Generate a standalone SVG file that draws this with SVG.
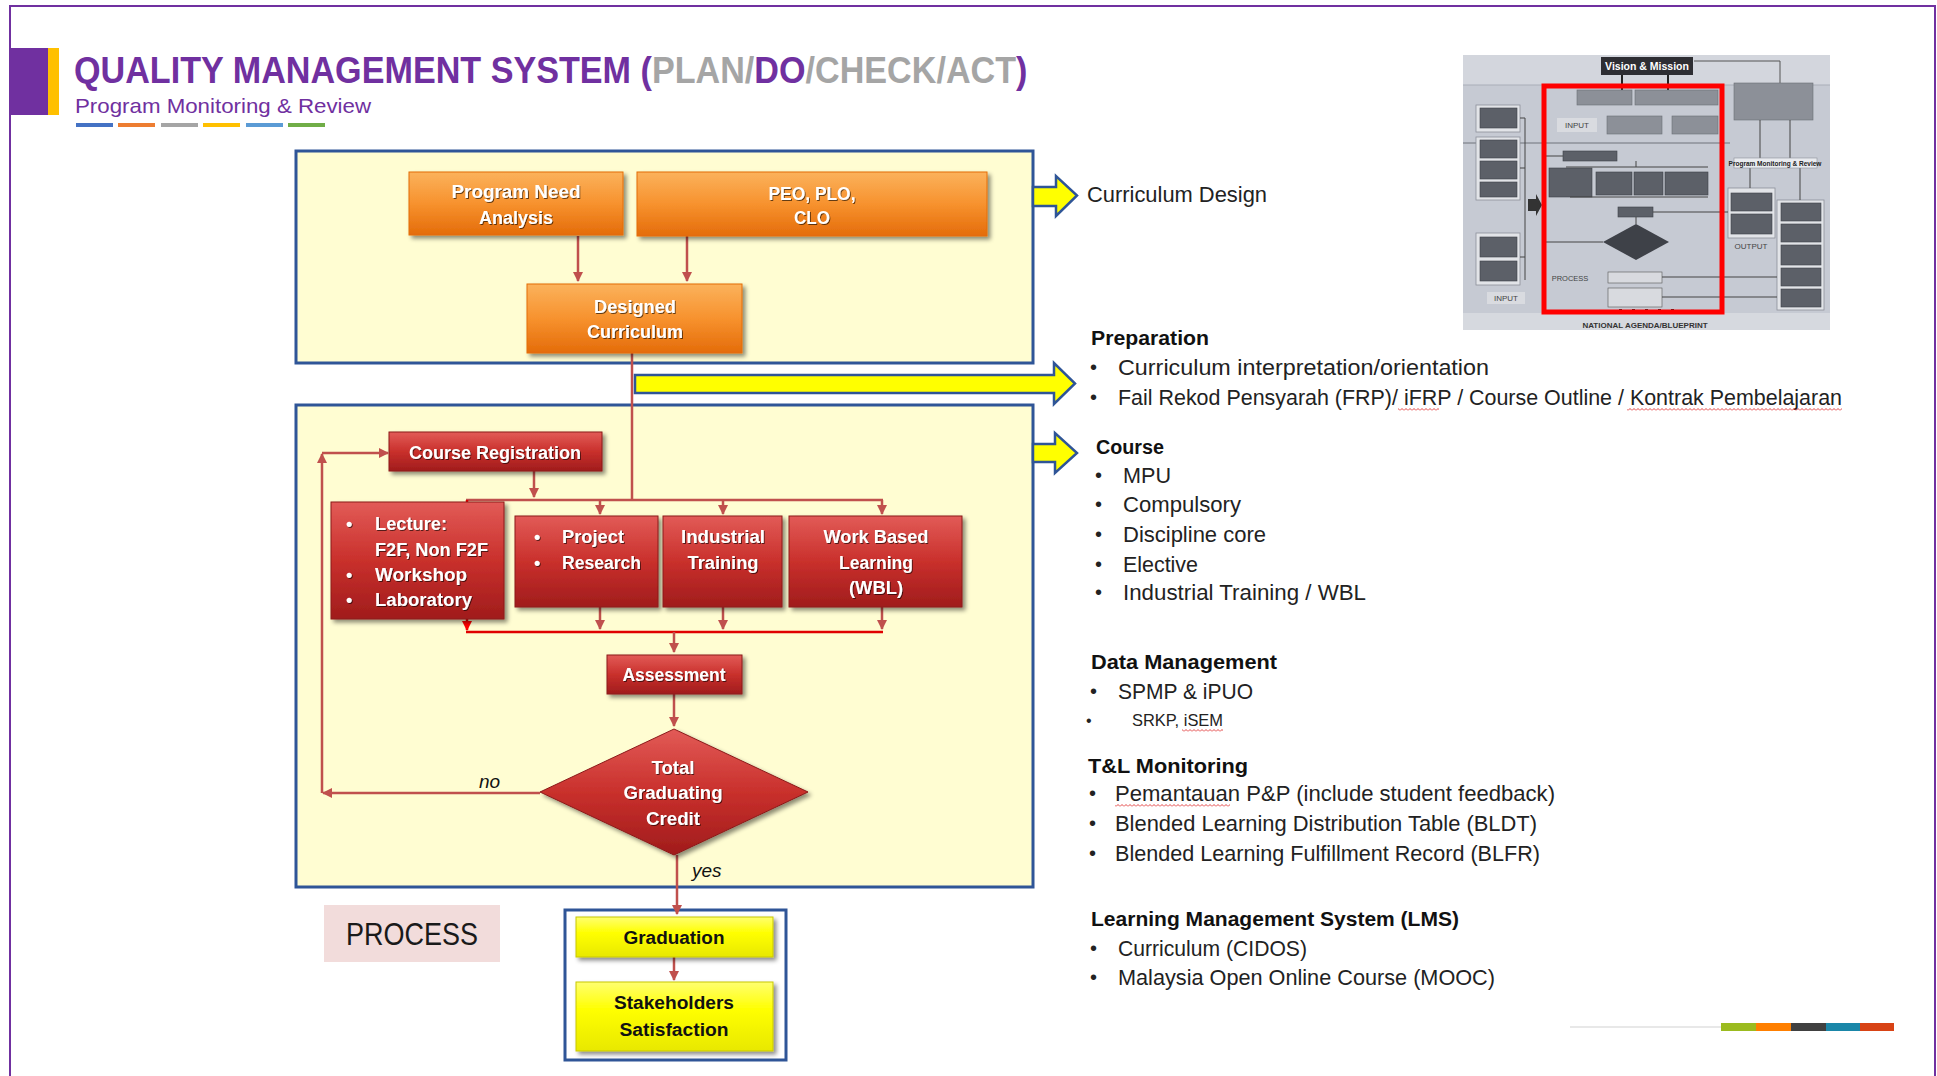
<svg xmlns="http://www.w3.org/2000/svg" width="1937" height="1076" viewBox="0 0 1937 1076">
<style>
text{font-family:"Liberation Sans",Arial,sans-serif}
.bx{font-size:18px;font-weight:bold;fill:#fff}
.bk{font-size:18px;font-weight:bold;fill:#111}
.rt{font-size:22px;fill:#222}
.rh{font-size:20px;font-weight:bold;fill:#111}
.bul{font-size:20px;fill:#222}
.pu{fill:#7030A0}
.gy{fill:#A5A5A5}
.con{stroke:#C0504D;stroke-width:2.5;fill:none}
.conr{stroke:#E00000;stroke-width:2.5;fill:none}
.ya{fill:#FFFF00;stroke:#2F5597;stroke-width:2.5;stroke-linejoin:miter}
.th{font-weight:bold}
</style>
<defs>
<linearGradient id="og" x1="0" y1="0" x2="0" y2="1"><stop offset="0" stop-color="#FBB25C"/><stop offset="0.5" stop-color="#F7922E"/><stop offset="1" stop-color="#E46C0A"/></linearGradient>
<linearGradient id="rg" x1="0" y1="0" x2="0" y2="1"><stop offset="0" stop-color="#E25B57"/><stop offset="0.5" stop-color="#C9302C"/><stop offset="1" stop-color="#A01C1C"/></linearGradient>
<linearGradient id="yg" x1="0" y1="0" x2="0" y2="1"><stop offset="0" stop-color="#FFFF70"/><stop offset="0.4" stop-color="#FFFF00"/><stop offset="1" stop-color="#E8E800"/></linearGradient>
<filter id="sh" x="-10%" y="-10%" width="130%" height="140%"><feDropShadow dx="3" dy="3" stdDeviation="2" flood-color="#000" flood-opacity="0.45"/></filter>
<filter id="ts" x="-5%" y="-20%" width="115%" height="150%"><feDropShadow dx="1" dy="1" stdDeviation="0.6" flood-color="#000" flood-opacity="0.6"/></filter>
<marker id="ah" viewBox="0 0 10 10" refX="9" refY="5" markerWidth="4" markerHeight="4" orient="auto"><path d="M0,0 L10,5 L0,10 z" fill="#C0504D"/></marker>
<marker id="ahr" viewBox="0 0 10 10" refX="9" refY="5" markerWidth="4" markerHeight="4" orient="auto"><path d="M0,0 L10,5 L0,10 z" fill="#FF0000"/></marker>
<pattern id="sq" width="4" height="3" patternUnits="userSpaceOnUse"><polyline points="0,2.5 2,0.5 4,2.5" fill="none" stroke="#E03030" stroke-width="0.9"/></pattern>
</defs>

<rect x="0" y="0" width="1937" height="1076" fill="#fff"/>
<rect x="10" y="6" width="1925" height="1090" fill="none" stroke="#7030A0" stroke-width="2"/>

<g id="header">
<rect x="10" y="48" width="38" height="67" fill="#7030A0"/>
<rect x="48" y="48" width="11" height="67" fill="#FFC000"/>
<text transform="translate(74,83) scale(0.923,1)" font-size="37" font-weight="bold"><tspan class="pu">QUALITY MANAGEMENT SYSTEM (</tspan><tspan class="gy">PLAN/</tspan><tspan class="pu">DO</tspan><tspan class="gy">/CHECK/ACT</tspan><tspan class="pu">)</tspan></text>
<text x="75" y="113" font-size="21" fill="#7030A0" textLength="296" lengthAdjust="spacingAndGlyphs">Program Monitoring &amp; Review</text>
<rect x="76" y="123" width="37" height="4" fill="#4472C4"/>
<rect x="118" y="123" width="37" height="4" fill="#ED7D31"/>
<rect x="161" y="123" width="37" height="4" fill="#A5A5A5"/>
<rect x="203" y="123" width="37" height="4" fill="#FFC000"/>
<rect x="246" y="123" width="37" height="4" fill="#5B9BD5"/>
<rect x="288" y="123" width="37" height="4" fill="#70AD47"/>
</g>

<g id="footer-bar">
<line x1="1570" y1="1027" x2="1721" y2="1027" stroke="#E0E0E0" stroke-width="1.5"/>
<rect x="1721" y="1023" width="35" height="8" fill="#9BBB1F"/>
<rect x="1756" y="1023" width="35" height="8" fill="#FF7F00"/>
<rect x="1791" y="1023" width="35" height="8" fill="#404040"/>
<rect x="1826" y="1023" width="34" height="8" fill="#1A86A8"/>
<rect x="1860" y="1023" width="34" height="8" fill="#D84315"/>
</g>

<g id="plan-frame"><rect x="296" y="151" width="737" height="212" fill="#FFFDD2" stroke="#2F5597" stroke-width="3"/></g>
<g id="process-frame"><rect x="296" y="405" width="737" height="482" fill="#FFFDD2" stroke="#2F5597" stroke-width="3"/></g>
<g id="output-frame"><rect x="565" y="910" width="221" height="150" fill="#fff" stroke="#2F5597" stroke-width="3"/></g>

<g id="connectors">
<line class="con" x1="578" y1="236" x2="578" y2="281" marker-end="url(#ah)"/>
<line class="con" x1="687" y1="236" x2="687" y2="281" marker-end="url(#ah)"/>
<line class="con" x1="632" y1="353" x2="632" y2="500"/>
<polygon class="ya" points="635,375 1054,375 1054,363 1075,383.5 1054,404 1054,393 635,393"/>
<line class="con" x1="534" y1="471" x2="534" y2="497" marker-end="url(#ah)"/>
<line class="con" x1="466" y1="500" x2="883" y2="500"/>
<line class="conr" x1="467" y1="500" x2="467" y2="512" marker-end="url(#ahr)"/>
<line class="con" x1="600" y1="500" x2="600" y2="514" marker-end="url(#ah)"/>
<line class="con" x1="723" y1="500" x2="723" y2="514" marker-end="url(#ah)"/>
<line class="con" x1="882" y1="500" x2="882" y2="514" marker-end="url(#ah)"/>
<line class="con" x1="600" y1="607" x2="600" y2="629" marker-end="url(#ah)"/>
<line class="con" x1="723" y1="607" x2="723" y2="629" marker-end="url(#ah)"/>
<line class="con" x1="882" y1="607" x2="882" y2="629" marker-end="url(#ah)"/>
<line class="conr" x1="467" y1="619" x2="467" y2="630" marker-end="url(#ahr)"/>
<line class="conr" x1="466" y1="632" x2="883" y2="632"/>
<line class="con" x1="674" y1="632" x2="674" y2="652" marker-end="url(#ah)"/>
<line class="con" x1="674" y1="694" x2="674" y2="726" marker-end="url(#ah)"/>
<line class="con" x1="540" y1="793" x2="323" y2="793" marker-end="url(#ah)"/>
<line class="con" x1="322" y1="793" x2="322" y2="454" marker-end="url(#ah)"/>
<line class="con" x1="322" y1="453" x2="388" y2="453" marker-end="url(#ah)"/>
<line class="con" x1="677" y1="855" x2="677" y2="914" marker-end="url(#ah)"/>
<line class="con" x1="674" y1="957" x2="674" y2="980" marker-end="url(#ah)"/>
<polygon class="ya" points="1033,187 1056,187 1056,176 1077,195.5 1056,216 1056,206 1033,206"/>
<polygon class="ya" points="1033,444 1055,444 1055,433 1077,453 1055,473 1055,462 1033,462"/>
</g>

<g id="program-need">
<rect x="409" y="172" width="214" height="63" fill="url(#og)" stroke="#E46C0A" filter="url(#sh)"/>
<g filter="url(#ts)"><text class="bx" x="516" y="198" text-anchor="middle" textLength="129" lengthAdjust="spacingAndGlyphs">Program Need</text>
<text class="bx" x="516" y="224" text-anchor="middle" textLength="74" lengthAdjust="spacingAndGlyphs">Analysis</text></g>
</g>
<g id="peo-plo-clo">
<rect x="637" y="172" width="350" height="64" fill="url(#og)" stroke="#E46C0A" filter="url(#sh)"/>
<g filter="url(#ts)"><text class="bx" x="812" y="200" text-anchor="middle" textLength="87" lengthAdjust="spacingAndGlyphs">PEO, PLO,</text>
<text class="bx" x="812" y="224" text-anchor="middle" textLength="36" lengthAdjust="spacingAndGlyphs">CLO</text></g>
</g>
<g id="designed-curriculum">
<rect x="527" y="284" width="215" height="69" fill="url(#og)" stroke="#E46C0A" filter="url(#sh)"/>
<g filter="url(#ts)"><text class="bx" x="635" y="313" text-anchor="middle" textLength="82" lengthAdjust="spacingAndGlyphs">Designed</text>
<text class="bx" x="635" y="338" text-anchor="middle" textLength="96" lengthAdjust="spacingAndGlyphs">Curriculum</text></g>
</g>

<g id="course-registration">
<rect x="389" y="432" width="213" height="39" fill="url(#rg)" stroke="#8B1A1A" filter="url(#sh)"/>
<text class="bx" filter="url(#ts)" x="495" y="459" text-anchor="middle" textLength="172" lengthAdjust="spacingAndGlyphs">Course Registration</text>
</g>
<g id="lecture">
<rect x="331" y="502" width="173" height="117" fill="url(#rg)" stroke="#8B1A1A" filter="url(#sh)"/>
<g filter="url(#ts)">
<text class="bx" x="346" y="530">•</text><text class="bx" x="375" y="530" textLength="72" lengthAdjust="spacingAndGlyphs">Lecture:</text>
<text class="bx" x="375" y="556" textLength="113" lengthAdjust="spacingAndGlyphs">F2F, Non F2F</text>
<text class="bx" x="346" y="581">•</text><text class="bx" x="375" y="581" textLength="92" lengthAdjust="spacingAndGlyphs">Workshop</text>
<text class="bx" x="346" y="606">•</text><text class="bx" x="375" y="606" textLength="97" lengthAdjust="spacingAndGlyphs">Laboratory</text>
</g>
</g>
<g id="project-research">
<rect x="515" y="516" width="143" height="91" fill="url(#rg)" stroke="#8B1A1A" filter="url(#sh)"/>
<g filter="url(#ts)">
<text class="bx" x="534" y="543">•</text><text class="bx" x="562" y="543" textLength="62" lengthAdjust="spacingAndGlyphs">Project</text>
<text class="bx" x="534" y="569">•</text><text class="bx" x="562" y="569" textLength="79" lengthAdjust="spacingAndGlyphs">Research</text>
</g>
</g>
<g id="industrial-training">
<rect x="663" y="516" width="119" height="91" fill="url(#rg)" stroke="#8B1A1A" filter="url(#sh)"/>
<g filter="url(#ts)">
<text class="bx" x="723" y="543" text-anchor="middle" textLength="84" lengthAdjust="spacingAndGlyphs">Industrial</text>
<text class="bx" x="723" y="569" text-anchor="middle" textLength="71" lengthAdjust="spacingAndGlyphs">Training</text>
</g>
</g>
<g id="wbl">
<rect x="789" y="516" width="173" height="91" fill="url(#rg)" stroke="#8B1A1A" filter="url(#sh)"/>
<g filter="url(#ts)">
<text class="bx" x="876" y="543" text-anchor="middle" textLength="105" lengthAdjust="spacingAndGlyphs">Work Based</text>
<text class="bx" x="876" y="569" text-anchor="middle" textLength="74" lengthAdjust="spacingAndGlyphs">Learning</text>
<text class="bx" x="876" y="594" text-anchor="middle" textLength="54" lengthAdjust="spacingAndGlyphs">(WBL)</text>
</g>
</g>
<g id="assessment">
<rect x="607" y="655" width="135" height="39" fill="url(#rg)" stroke="#8B1A1A" filter="url(#sh)"/>
<text class="bx" filter="url(#ts)" x="674" y="681" text-anchor="middle" textLength="103" lengthAdjust="spacingAndGlyphs">Assessment</text>
</g>
<g id="total-graduating-credit">
<polygon points="674,729 808,792 674,855 540,792" fill="url(#rg)" stroke="#8B1A1A" filter="url(#sh)"/>
<g filter="url(#ts)">
<text class="bx" x="673" y="774" text-anchor="middle" textLength="43" lengthAdjust="spacingAndGlyphs">Total</text>
<text class="bx" x="673" y="799" text-anchor="middle" textLength="99" lengthAdjust="spacingAndGlyphs">Graduating</text>
<text class="bx" x="673" y="825" text-anchor="middle" textLength="54" lengthAdjust="spacingAndGlyphs">Credit</text>
</g>
</g>
<g id="labels">
<text x="479" y="788" font-size="19" font-style="italic" fill="#111">no</text>
<text x="692" y="877" font-size="19" font-style="italic" fill="#111">yes</text>
</g>
<g id="graduation">
<rect x="576" y="917" width="197" height="40" fill="url(#yg)" stroke="#C8C800" filter="url(#sh)"/>
<text class="bk" x="674" y="944" text-anchor="middle" textLength="101" lengthAdjust="spacingAndGlyphs">Graduation</text>
</g>
<g id="stakeholders">
<rect x="576" y="982" width="197" height="69" fill="url(#yg)" stroke="#C8C800" filter="url(#sh)"/>
<text class="bk" x="674" y="1009" text-anchor="middle" textLength="120" lengthAdjust="spacingAndGlyphs">Stakeholders</text>
<text class="bk" x="674" y="1036" text-anchor="middle" textLength="109" lengthAdjust="spacingAndGlyphs">Satisfaction</text>
</g>
<g id="process-label">
<rect x="324" y="905" width="176" height="57" fill="#F2DCDB"/>
<text x="346" y="945" font-size="32" fill="#1a1a1a" textLength="132" lengthAdjust="spacingAndGlyphs">PROCESS</text>
</g>

<g id="curriculum-design">
<text class="rt" x="1087" y="202" textLength="180" lengthAdjust="spacingAndGlyphs">Curriculum Design</text>
</g>
<g id="preparation">
<text class="rh" x="1091" y="345" textLength="118" lengthAdjust="spacingAndGlyphs">Preparation</text>
<text class="bul" x="1090" y="374">•</text><text class="rt" x="1118" y="375" textLength="371" lengthAdjust="spacingAndGlyphs">Curriculum interpretation/orientation</text>
<text class="bul" x="1090" y="404">•</text><text class="rt" x="1118" y="405" textLength="724" lengthAdjust="spacingAndGlyphs">Fail Rekod Pensyarah (FRP)/ iFRP / Course Outline / Kontrak Pembelajaran</text>
<rect x="1398" y="408" width="41" height="3" fill="url(#sq)"/>
<rect x="1627" y="408" width="215" height="3" fill="url(#sq)"/>
</g>
<g id="course">
<text class="rh" x="1096" y="454" textLength="68" lengthAdjust="spacingAndGlyphs">Course</text>
<text class="bul" x="1095" y="482">•</text><text class="rt" x="1123" y="483" textLength="48" lengthAdjust="spacingAndGlyphs">MPU</text>
<text class="bul" x="1095" y="511">•</text><text class="rt" x="1123" y="512" textLength="118" lengthAdjust="spacingAndGlyphs">Compulsory</text>
<text class="bul" x="1095" y="541">•</text><text class="rt" x="1123" y="542" textLength="143" lengthAdjust="spacingAndGlyphs">Discipline core</text>
<text class="bul" x="1095" y="571">•</text><text class="rt" x="1123" y="572" textLength="75" lengthAdjust="spacingAndGlyphs">Elective</text>
<text class="bul" x="1095" y="599">•</text><text class="rt" x="1123" y="600" textLength="243" lengthAdjust="spacingAndGlyphs">Industrial Training / WBL</text>
</g>
<g id="data-management">
<text class="rh" x="1091" y="669" textLength="186" lengthAdjust="spacingAndGlyphs">Data Management</text>
<text class="bul" x="1090" y="698">•</text><text class="rt" x="1118" y="699" textLength="135" lengthAdjust="spacingAndGlyphs">SPMP &amp; iPUO</text>
<text x="1086" y="726" font-size="16" fill="#222">•</text><text x="1132" y="726" font-size="17" fill="#222" textLength="91" lengthAdjust="spacingAndGlyphs">SRKP, iSEM</text>
<rect x="1182" y="729" width="41" height="3" fill="url(#sq)"/>
</g>
<g id="tl-monitoring">
<text class="rh" x="1088" y="773" textLength="160" lengthAdjust="spacingAndGlyphs">T&amp;L Monitoring</text>
<text class="bul" x="1089" y="800">•</text><text class="rt" x="1115" y="801" textLength="440" lengthAdjust="spacingAndGlyphs">Pemantauan P&amp;P (include student feedback)</text>
<rect x="1115" y="804" width="115" height="3" fill="url(#sq)"/>
<text class="bul" x="1089" y="830">•</text><text class="rt" x="1115" y="831" textLength="422" lengthAdjust="spacingAndGlyphs">Blended Learning Distribution Table (BLDT)</text>
<text class="bul" x="1089" y="860">•</text><text class="rt" x="1115" y="861" textLength="425" lengthAdjust="spacingAndGlyphs">Blended Learning Fulfillment Record (BLFR)</text>
</g>
<g id="lms">
<text class="rh" x="1091" y="926" textLength="368" lengthAdjust="spacingAndGlyphs">Learning Management System (LMS)</text>
<text class="bul" x="1090" y="955">•</text><text class="rt" x="1118" y="956" textLength="189" lengthAdjust="spacingAndGlyphs">Curriculum (CIDOS)</text>
<text class="bul" x="1090" y="984">•</text><text class="rt" x="1118" y="985" textLength="377" lengthAdjust="spacingAndGlyphs">Malaysia Open Online Course (MOOC)</text>
</g>

<g id="thumbnail">
<rect x="1463" y="55" width="367" height="275" fill="#C6CAD3"/>
<rect x="1463" y="55" width="367" height="30" fill="#D3D6DD"/>
<line x1="1463" y1="85" x2="1830" y2="85" stroke="#A9AEB8"/>
<rect x="1463" y="313" width="367" height="17" fill="#D6D9DF"/>
<line x1="1463" y1="143" x2="1730" y2="143" stroke="#6F737B" stroke-width="1"/>
<rect x="1601" y="57" width="92" height="18" fill="#2E2E33"/>
<text x="1647" y="70" font-size="10.5" fill="#fff" text-anchor="middle" class="th">Vision &amp; Mission</text>
<path d="M1780,83 V61 H1694" fill="none" stroke="#555" stroke-width="1"/>
<line x1="1622" y1="75" x2="1622" y2="90" stroke="#222" stroke-width="2"/>
<line x1="1668" y1="75" x2="1668" y2="90" stroke="#222" stroke-width="2"/>
<g fill="#E2E4E8" stroke="#8C9099" stroke-width="0.8">
<rect x="1476" y="105" width="44" height="27"/>
<rect x="1476" y="137" width="44" height="63"/>
<rect x="1476" y="233" width="44" height="52"/>
<rect x="1728" y="188" width="47" height="50"/>
<rect x="1777" y="200" width="47" height="110"/>
</g>
<g fill="#5C6068" stroke="#3E4148" stroke-width="0.6">
<rect x="1480" y="108" width="37" height="20"/>
<rect x="1480" y="140" width="37" height="18"/>
<rect x="1480" y="161" width="37" height="18"/>
<rect x="1480" y="182" width="37" height="15"/>
<rect x="1480" y="237" width="37" height="20"/>
<rect x="1480" y="261" width="37" height="20"/>
<rect x="1731" y="193" width="41" height="18"/>
<rect x="1731" y="214" width="41" height="20"/>
<rect x="1781" y="203" width="40" height="18"/>
<rect x="1781" y="224" width="40" height="18"/>
<rect x="1781" y="245" width="40" height="20"/>
<rect x="1781" y="268" width="40" height="18"/>
<rect x="1781" y="289" width="40" height="18"/>
<rect x="1549" y="168" width="43" height="29"/>
<rect x="1596" y="172" width="36" height="23"/>
<rect x="1634" y="172" width="29" height="23"/>
<rect x="1665" y="172" width="43" height="23"/>
<rect x="1618" y="207" width="35" height="10"/>
<rect x="1563" y="151" width="54" height="10"/>
</g>
<g fill="#8C9098" stroke="#6A6E76" stroke-width="0.6">
<rect x="1577" y="90" width="55" height="15"/>
<rect x="1635" y="90" width="83" height="15"/>
<rect x="1607" y="116" width="55" height="18"/>
<rect x="1672" y="116" width="46" height="18"/>
<rect x="1734" y="83" width="79" height="37"/>
</g>
<polygon points="1636,224 1669,242 1636,260 1603,242" fill="#3E4148"/>
<rect x="1608" y="272" width="54" height="11" fill="#D8DADF" stroke="#555" stroke-width="0.6"/>
<rect x="1608" y="288" width="54" height="19" fill="#D8DADF" stroke="#555" stroke-width="0.6"/>
<g stroke="#444" stroke-width="1" fill="none">
<path d="M1525,118 V280 M1520,118 H1525 M1520,168 H1525 M1520,257 H1525"/>
<path d="M1563,156 H1542"/>
<path d="M1603,242 H1542"/>
<path d="M1566,167 H1708 M1636,161 V167 M1570,197 H1708 M1636,217 V224"/>
<path d="M1653,212 H1728"/>
<path d="M1662,277 H1777 M1662,297 H1777"/>
<path d="M1750,188 V168 M1800,200 V168 M1760,158 V120 M1790,158 V120"/>
</g>
<polygon points="1528,199 1536,199 1536,194 1542,205 1536,216 1536,211 1528,211" fill="#333"/>
<rect x="1734" y="158" width="83" height="10" fill="#E9EBEF" stroke="#8C9099" stroke-width="0.6"/>
<text x="1775" y="166" font-size="6.5" fill="#222" text-anchor="middle" class="th">Program Monitoring &amp; Review</text>
<rect x="1487" y="292" width="38" height="12" fill="#D9DBE0"/>
<text x="1506" y="301" font-size="8" fill="#444" text-anchor="middle">INPUT</text>
<rect x="1557" y="118" width="40" height="14" fill="#D9DBE0"/>
<text x="1577" y="128" font-size="8" fill="#444" text-anchor="middle">INPUT</text>
<text x="1570" y="281" font-size="7.5" fill="#444" text-anchor="middle">PROCESS</text>
<text x="1751" y="249" font-size="8" fill="#444" text-anchor="middle">OUTPUT</text>
<g fill="#222"><rect x="1619" y="309" width="3" height="5"/><rect x="1632" y="309" width="3" height="5"/><rect x="1645" y="309" width="3" height="5"/><rect x="1658" y="309" width="3" height="5"/><rect x="1671" y="309" width="3" height="5"/></g>
<rect x="1544" y="86" width="178" height="226" fill="none" stroke="#FF0000" stroke-width="5"/>
<text x="1645" y="328" font-size="8" fill="#333" text-anchor="middle" class="th">NATIONAL AGENDA/BLUEPRINT</text>
</g>
</svg>
